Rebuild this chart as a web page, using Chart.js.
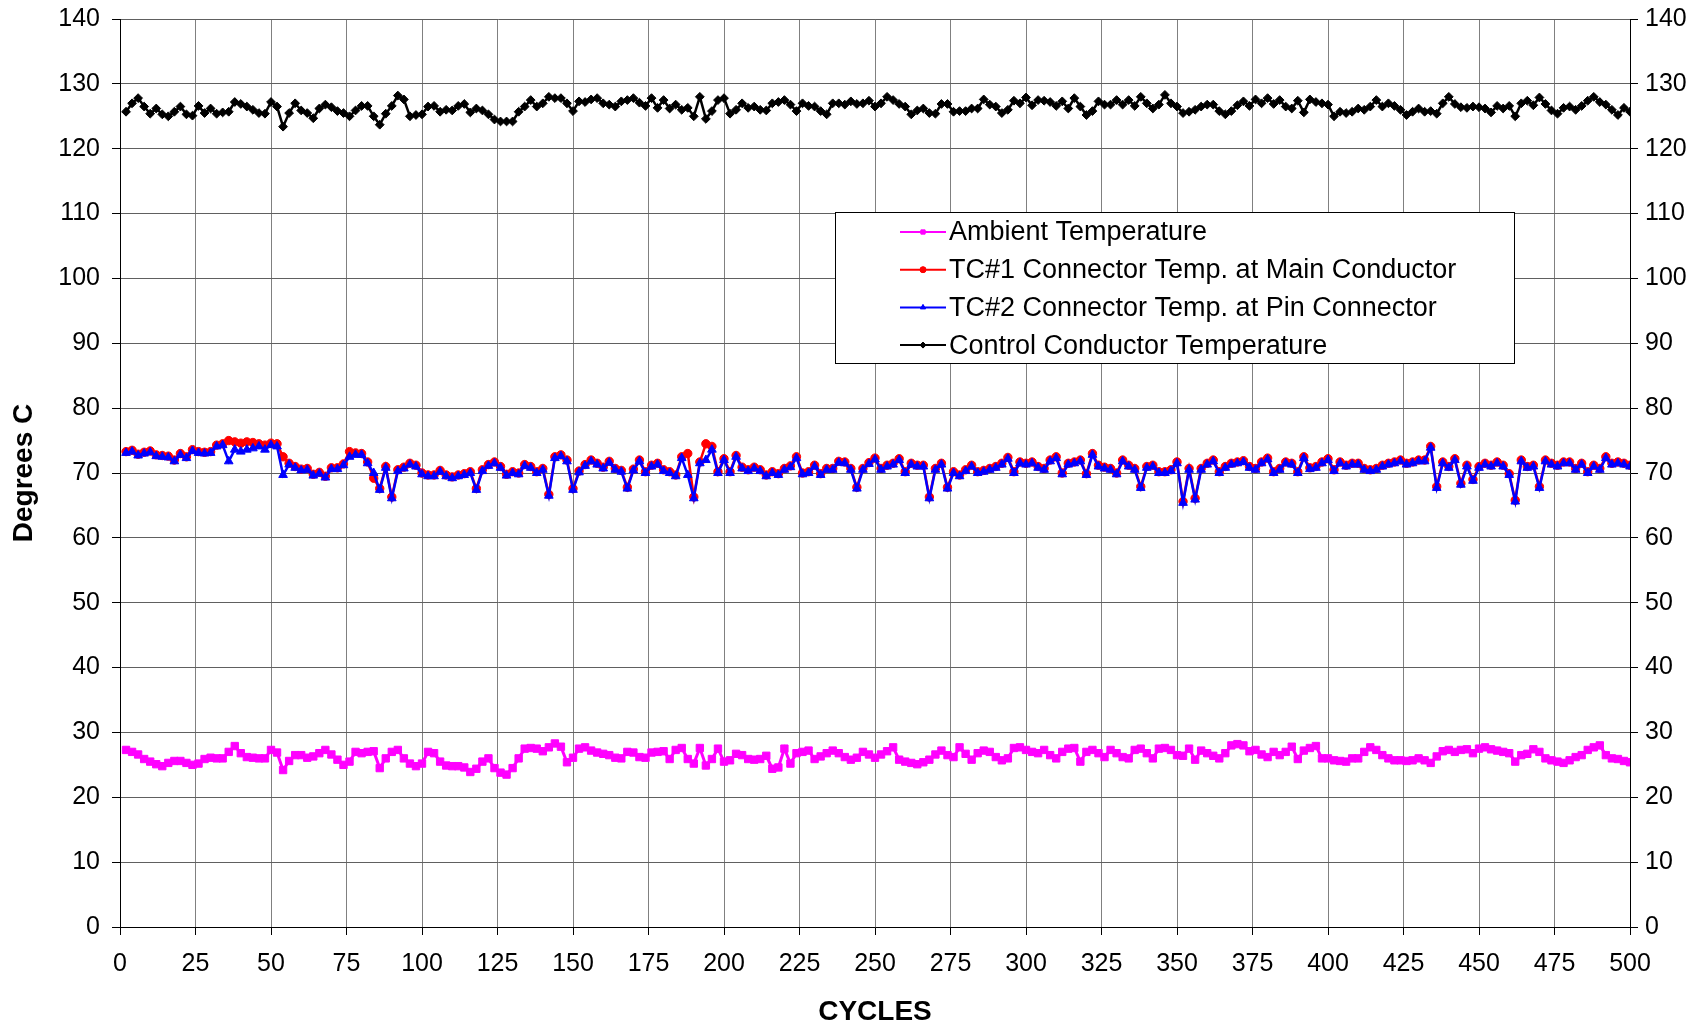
<!DOCTYPE html>
<html lang="en">
<head>
<meta charset="UTF-8">
<title>Connector Temperatures vs Cycles</title>
<script src="https://cdn.jsdelivr.net/npm/chart.js"></script>
<style>
  html, body { margin: 0; padding: 0; background: #fff; }
  canvas { display: block; }
</style>
</head>
<body>
<canvas id="tempChart" width="1705" height="1030"></canvas>
<script>
// readings taken every 2nd cycle, 2..500
const firstCycle = 2;
const cycleStep = 2;

const ambient = [
  27.3, 27.0, 26.6, 25.9, 25.5, 25.1, 24.8, 25.3, 25.6, 25.6,
  25.3, 25.0, 25.2, 25.9, 26.1, 26.0, 26.0, 27.0, 27.9, 26.8,
  26.2, 26.1, 26.0, 26.0, 27.3, 26.9, 24.2, 25.6, 26.5, 26.5,
  26.1, 26.3, 26.8, 27.3, 26.6, 25.8, 25.0, 25.5, 27.0, 26.8,
  27.0, 27.1, 24.5, 26.0, 27.0, 27.3, 26.0, 25.2, 24.8, 25.2,
  27.0, 26.8, 25.5, 24.9, 24.8, 24.8, 24.6, 23.9, 24.4, 25.5,
  26.0, 24.5, 23.8, 23.5, 24.5, 26.0, 27.5, 27.6, 27.5, 27.1,
  27.7, 28.3, 27.8, 25.4, 26.1, 27.5, 27.7, 27.2, 26.9, 26.7,
  26.5, 26.1, 26.0, 27.0, 26.9, 26.2, 26.1, 26.9, 27.0, 27.1,
  25.9, 27.3, 27.6, 25.9, 25.2, 27.6, 24.9, 25.9, 27.5, 25.5,
  25.7, 26.7, 26.5, 25.9, 25.8, 25.9, 26.4, 24.4, 24.6, 27.5,
  25.2, 26.8, 27.0, 27.2, 25.9, 26.3, 26.8, 27.2, 26.8, 26.2,
  25.8, 26.1, 27.0, 26.6, 26.1, 26.6, 27.1, 27.7, 25.8, 25.5,
  25.3, 25.1, 25.4, 25.8, 26.6, 27.2, 26.5, 26.2, 27.7, 26.7,
  25.8, 26.8, 27.2, 27.0, 26.2, 25.7, 26.0, 27.6, 27.7, 27.3,
  27.0, 26.8, 27.3, 26.5, 26.0, 27.0, 27.5, 27.6, 25.5, 27.0,
  27.3, 26.8, 26.2, 27.3, 26.8, 26.2, 26.0, 27.3, 27.5, 26.8,
  26.0, 27.5, 27.6, 27.3, 26.5, 26.4, 27.5, 25.8, 27.2, 26.8,
  26.4, 26.0, 26.8, 28.0, 28.2, 28.0, 27.1, 27.3, 26.6, 26.2,
  27.0, 26.5, 27.0, 27.8, 25.9, 27.2, 27.6, 27.9, 26.0, 26.0,
  25.7, 25.6, 25.5, 26.0, 26.0, 27.0, 27.7, 27.3, 26.5, 26.0,
  25.7, 25.7, 25.6, 25.7, 26.0, 25.7, 25.3, 26.3, 27.1, 27.3,
  27.0, 27.3, 27.4, 26.8, 27.5, 27.7, 27.4, 27.2, 27.0, 26.8,
  25.5, 26.5, 26.7, 27.4, 27.0, 26.0, 25.7, 25.5, 25.3, 25.7,
  26.2, 26.5, 27.3, 27.7, 28.0, 26.5, 26.0, 25.9, 25.6, 25.4
];

const tc1Main = [
  73.3, 73.5, 72.9, 73.2, 73.4, 72.8, 72.7, 72.6, 72.0, 73.0,
  72.5, 73.6, 73.3, 73.2, 73.3, 74.3, 74.5, 75.0, 74.8, 74.6,
  74.8, 74.7, 74.5, 74.3, 74.6, 74.5, 72.5, 71.5, 71.0, 70.6,
  70.7, 69.8, 70.1, 69.5, 70.8, 70.8, 71.4, 73.3, 73.1, 73.0,
  71.7, 69.2, 67.6, 71.0, 66.3, 70.5, 70.9, 71.5, 71.2, 70.0,
  69.7, 69.7, 70.4, 69.7, 69.4, 69.7, 69.9, 70.2, 67.6, 70.5,
  71.3, 71.7, 71.0, 69.8, 70.2, 70.0, 71.3, 71.0, 70.2, 70.7,
  66.7, 72.5, 72.8, 72.0, 67.6, 70.3, 71.3, 72.0, 71.5, 70.9,
  71.8, 70.7, 70.4, 67.8, 70.6, 72.0, 70.2, 71.2, 71.5, 70.5,
  70.2, 69.7, 72.5, 73.0, 66.3, 71.7, 74.5, 74.1, 70.2, 72.2,
  70.2, 72.7, 70.9, 70.5, 70.9, 70.5, 69.7, 70.2, 69.9, 70.7,
  71.1, 72.5, 70.0, 70.2, 71.2, 69.9, 70.7, 70.7, 71.8, 71.7,
  70.7, 67.8, 70.7, 71.6, 72.3, 70.7, 71.2, 71.5, 72.2, 70.2,
  71.5, 71.2, 71.2, 66.3, 70.7, 71.5, 67.8, 70.2, 69.7, 70.5,
  71.2, 70.2, 70.4, 70.7, 71.0, 71.5, 72.4, 70.2, 71.7, 71.5,
  71.7, 71.0, 70.7, 72.0, 72.5, 70.0, 71.5, 71.7, 72.0, 69.9,
  73.0, 71.2, 70.9, 70.7, 70.0, 72.0, 71.2, 70.7, 67.9, 71.0,
  71.2, 70.2, 70.2, 70.5, 71.7, 65.6, 70.7, 66.1, 70.7, 71.5,
  72.0, 70.2, 71.0, 71.5, 71.7, 71.9, 71.0, 70.7, 71.7, 72.3,
  70.2, 70.7, 71.7, 71.5, 70.2, 72.5, 70.8, 71.0, 71.7, 72.2,
  70.5, 71.7, 71.2, 71.5, 71.5, 70.7, 70.5, 70.7, 71.2, 71.5,
  71.7, 72.0, 71.5, 71.7, 72.0, 72.0, 74.1, 67.9, 71.7, 71.0,
  72.2, 68.4, 71.2, 69.0, 71.0, 71.5, 71.2, 71.7, 71.2, 69.9,
  65.8, 72.0, 71.0, 71.2, 67.9, 72.0, 71.5, 71.2, 71.7, 71.7,
  70.7, 71.5, 70.2, 71.2, 70.7, 72.5, 71.5, 71.7, 71.5, 71.2
];

const tc2Pin = [
  73.1, 73.3, 72.7, 73.0, 73.2, 72.6, 72.5, 72.4, 71.8, 72.8,
  72.3, 73.4, 73.1, 73.0, 73.1, 74.1, 74.3, 71.8, 73.6, 73.3,
  73.6, 73.8, 74.1, 73.6, 74.3, 74.1, 69.7, 71.3, 70.8, 70.4,
  70.5, 69.6, 69.9, 69.3, 70.6, 70.6, 71.2, 72.5, 72.8, 72.8,
  71.5, 70.0, 67.4, 70.8, 66.1, 70.3, 70.7, 71.3, 71.0, 69.8,
  69.5, 69.5, 70.2, 69.5, 69.2, 69.5, 69.7, 70.0, 67.4, 70.3,
  71.1, 71.5, 70.8, 69.6, 70.0, 69.8, 71.1, 70.8, 70.0, 70.5,
  66.5, 72.3, 72.6, 71.8, 67.4, 70.1, 71.1, 71.8, 71.3, 70.7,
  71.6, 70.5, 70.2, 67.6, 70.4, 71.8, 70.0, 71.0, 71.3, 70.3,
  70.0, 69.5, 72.3, 69.7, 66.1, 71.5, 72.0, 73.6, 70.0, 72.0,
  70.0, 72.5, 70.7, 70.3, 70.7, 70.3, 69.5, 70.0, 69.7, 70.5,
  70.9, 72.3, 69.8, 70.0, 71.0, 69.7, 70.5, 70.5, 71.6, 71.5,
  70.5, 67.6, 70.5, 71.4, 72.1, 70.5, 71.0, 71.3, 72.0, 70.0,
  71.3, 71.0, 71.0, 66.1, 70.5, 71.3, 67.6, 70.0, 69.5, 70.3,
  71.0, 70.0, 70.2, 70.5, 70.8, 71.3, 72.2, 70.0, 71.5, 71.3,
  71.5, 70.8, 70.5, 71.8, 72.3, 69.8, 71.3, 71.5, 71.8, 69.7,
  72.8, 71.0, 70.7, 70.5, 69.8, 71.8, 71.0, 70.5, 67.7, 70.8,
  71.0, 70.0, 70.0, 70.3, 71.5, 65.4, 70.5, 65.9, 70.5, 71.3,
  71.8, 70.0, 70.8, 71.3, 71.5, 71.7, 70.8, 70.5, 71.5, 72.1,
  70.0, 70.5, 71.5, 71.3, 70.0, 72.3, 70.6, 70.8, 71.5, 72.0,
  70.3, 71.5, 71.0, 71.3, 71.3, 70.5, 70.3, 70.5, 71.0, 71.3,
  71.5, 71.8, 71.3, 71.5, 71.8, 71.8, 73.9, 67.7, 71.5, 70.8,
  72.0, 68.2, 71.0, 68.8, 70.8, 71.3, 71.0, 71.5, 71.0, 69.7,
  65.6, 71.8, 70.8, 71.0, 67.7, 71.8, 71.3, 71.0, 71.5, 71.5,
  70.5, 71.3, 70.0, 71.0, 70.5, 72.3, 71.3, 71.5, 71.3, 71.0
];

const control = [
  125.7, 127.0, 127.8, 126.5, 125.4, 126.2, 125.3, 125.0, 125.7, 126.5,
  125.3, 125.1, 126.6, 125.5, 126.2, 125.4, 125.6, 125.7, 127.2, 126.9,
  126.5, 126.0, 125.5, 125.4, 127.2, 126.5, 123.4, 125.5, 127.0, 125.9,
  125.5, 124.7, 126.2, 126.8, 126.4, 125.8, 125.5, 125.0, 125.9, 126.6,
  126.6, 125.0, 123.7, 125.4, 126.6, 128.2, 127.6, 125.0, 125.2, 125.3,
  126.5, 126.6, 125.7, 126.0, 125.9, 126.6, 126.9, 125.6, 126.2, 125.9,
  125.3, 124.5, 124.2, 124.2, 124.2, 125.7, 126.5, 127.5, 126.5, 127.0,
  128.0, 127.8, 127.8, 127.0, 125.8, 127.3, 127.2, 127.6, 127.8, 127.0,
  126.8, 126.5, 127.3, 127.5, 127.8, 127.1, 126.6, 127.8, 126.3, 127.5,
  126.2, 126.8, 126.0, 126.3, 125.0, 128.0, 124.6, 125.8, 127.5, 127.8,
  125.4, 126.0, 127.0, 126.3, 126.5, 126.0, 125.9, 127.0, 127.2, 127.5,
  126.8, 125.8, 127.0, 126.6, 126.5, 125.8, 125.3, 127.0, 127.0, 126.8,
  127.3, 126.9, 127.0, 127.4, 126.5, 127.0, 128.0, 127.5, 126.9, 126.5,
  125.3, 125.9, 126.2, 125.5, 125.4, 126.9, 126.9, 125.7, 125.8, 125.8,
  126.2, 126.2, 127.6, 126.8, 126.5, 125.5, 126.0, 127.4, 127.0, 127.9,
  126.7, 127.5, 127.4, 127.2, 126.6, 127.3, 126.2, 127.8, 126.5, 125.2,
  125.8, 127.3, 126.8, 126.8, 127.5, 126.8, 127.5, 126.6, 128.0, 127.0,
  126.2, 126.8, 128.3, 127.0, 126.5, 125.5, 125.7, 126.0, 126.5, 126.8,
  126.8, 125.8, 125.3, 125.8, 126.7, 127.3, 126.6, 127.6, 127.0, 127.8,
  126.9, 127.5, 126.5, 126.2, 127.4, 125.6, 127.6, 127.2, 127.0, 126.8,
  125.0, 125.7, 125.5, 125.7, 126.2, 126.0, 126.5, 127.5, 126.5, 127.0,
  126.6, 126.0, 125.2, 125.7, 126.2, 125.7, 125.8, 125.4, 127.0, 128.0,
  126.9, 126.4, 126.3, 126.5, 126.4, 126.2, 125.6, 126.6, 126.2, 126.6,
  125.0, 127.0, 127.4, 126.7, 127.9, 126.9, 125.9, 125.4, 126.3, 126.5,
  126.0, 126.6, 127.4, 128.0, 127.2, 126.8, 126.0, 125.2, 126.3, 125.7
];

const seriesNames = [
  'Ambient Temperature',
  'TC#1 Connector Temp. at Main Conductor',
  'TC#2 Connector Temp. at Pin Connector',
  'Control Conductor Temperature'
];

const FONT = "'Liberation Sans', Arial, Helvetica, sans-serif";

function points(values) {
  return values.map((v, i) => ({ x: firstCycle + i * cycleStep, y: v }));
}

function series(label, values, color, style, radius, width, order) {
  return {
    label: label,
    data: points(values),
    borderColor: color,
    backgroundColor: color,
    borderWidth: width,
    pointStyle: style,
    pointRadius: radius,
    pointBorderWidth: 1,
    pointBackgroundColor: color,
    pointBorderColor: color,
    tension: 0,
    order: order
  };
}

// legend box sitting inside the plot, like the spreadsheet one
const boxLegend = {
  id: 'boxLegend',
  afterDatasetsDraw(chart) {
    const c = chart.ctx;
    const bx = 835, by = 212, bw = 679, bh = 151;
    c.save();
    c.fillStyle = '#fff';
    c.fillRect(bx, by, bw, bh);
    c.strokeStyle = '#000';
    c.lineWidth = 1;
    c.strokeRect(bx + 0.5, by + 0.5, bw, bh);

    [0, 1, 2, 3].forEach((k, row) => {
      const ds = chart.data.datasets[k];
      const y = by + 20 + row * 37.7;
      c.strokeStyle = ds.borderColor;
      c.lineWidth = 2;
      c.beginPath();
      c.moveTo(900, y);
      c.lineTo(946, y);
      c.stroke();
      c.fillStyle = ds.borderColor;
      c.lineWidth = 1;
      Chart.helpers.drawPoint(c, { pointStyle: ds.pointStyle, radius: 3, rotation: 0, borderWidth: 1 }, 923, y);
      c.fill();
      c.fillStyle = '#000';
      c.font = '27px ' + FONT;
      c.textBaseline = 'middle';
      c.textAlign = 'left';
      c.fillText(seriesNames[k], 949, y + 1);
    });
    c.restore();
  }
};

const tickFont = { family: FONT, size: 25 };

// keep the plot edge where the spreadsheet put it
function fixY(width) {
  return (s) => {
    s.width = width;
    s.paddingTop = 0;
    s.paddingBottom = 0;
  };
}

new Chart(document.getElementById('tempChart'), {
  type: 'line',
  data: {
    datasets: [
      series(seriesNames[0], ambient, '#FF00FF', 'rect', 5.2, 3, 4),
      series(seriesNames[1], tc1Main, '#FF0000', 'circle', 4.2, 2.5, 3),
      series(seriesNames[2], tc2Pin, '#0000FF', 'triangle', 5, 2.5, 2),
      series(seriesNames[3], control, '#000000', 'rectRot', 4.4, 2.5, 1)
    ]
  },
  options: {
    responsive: false,
    animation: false,
    devicePixelRatio: 1,
    layout: { padding: { top: 19, left: 0, right: 0, bottom: 0 } },
    plugins: {
      legend: { display: false },
      tooltip: { enabled: false }
    },
    scales: {
      x: {
        type: 'linear',
        min: 0,
        max: 500,
        ticks: { stepSize: 25, color: '#000', font: tickFont, padding: 14, maxRotation: 0 },
        grid: { color: '#808080', lineWidth: 1, tickLength: 8, tickColor: '#000' },
        border: { color: '#000', width: 1 },
        title: {
          display: true,
          text: 'CYCLES',
          color: '#000',
          font: { family: FONT, size: 28, weight: 'bold' },
          padding: { top: 0, bottom: 1 }
        },
        afterFit: (s) => { s.height = 103; }
      },
      y: {
        position: 'left',
        min: 0,
        max: 140,
        ticks: { stepSize: 10, color: '#000', font: tickFont, padding: 12 },
        grid: { color: '#606060', lineWidth: 1, tickLength: 8, tickColor: '#000' },
        border: { color: '#000', width: 1 },
        title: {
          display: true,
          text: 'Degrees C',
          color: '#000',
          font: { family: FONT, size: 28, weight: 'bold' },
          padding: { top: 7, bottom: 0 }
        },
        afterFit: fixY(120)
      },
      y2: {
        position: 'right',
        min: 0,
        max: 140,
        ticks: { stepSize: 10, color: '#000', font: tickFont, padding: 7 },
        grid: { drawOnChartArea: false, tickLength: 8, tickColor: '#000' },
        border: { color: '#000', width: 1 },
        afterFit: fixY(75)
      }
    }
  },
  plugins: [boxLegend]
});
</script>
</body>
</html>
